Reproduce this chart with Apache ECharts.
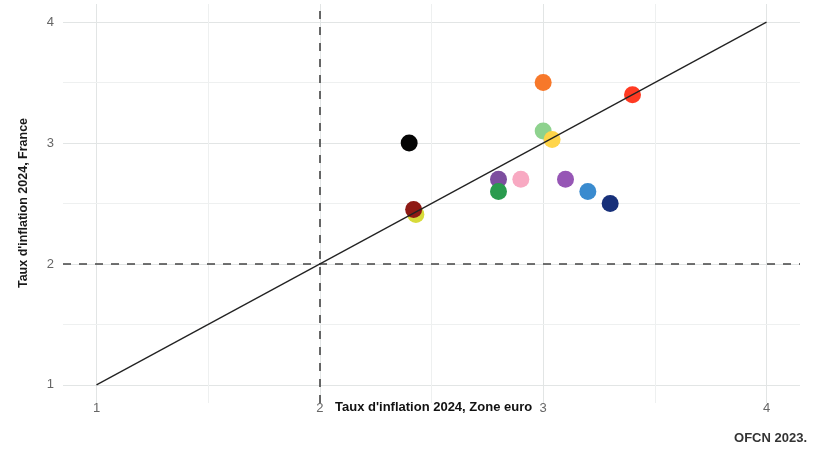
<!DOCTYPE html>
<html><head><meta charset="utf-8">
<script src="https://cdn.jsdelivr.net/npm/echarts@6/dist/echarts.min.js"></script>
<style>html,body{margin:0;padding:0;background:#fff}#c{width:817px;height:450px}</style>
</head><body><div id="c"></div>
<script>
const xVals = [3.0, 3.4, 3.0, 3.04, 2.4, 2.8, 2.9, 3.1, 2.8, 3.2, 3.3, 2.43, 2.42];
const yVals = [3.5, 3.4, 3.1, 3.03, 3.0, 2.7, 2.7, 2.7, 2.6, 2.6, 2.5, 2.41, 2.45];
const colors = ['#F7782A', '#FF3A22', '#8ED28E', '#FFD54A', '#050505', '#7D4E9F', '#F8A9C2', '#9656B5', '#2A9B4E', '#3A8BCF', '#17307A', '#D8DB3A', '#8E1A15'];
const majorTicks = [1, 2, 3, 4];
const minorTicks = [1.5, 2.5, 3.5];
const diagonal = [[1, 1], [4, 4]];
const refX = 2, refY = 2;

const points = xVals.map((x, i) => ({ value: [x, yVals[i]], itemStyle: { color: colors[i] } }));
const gridLines = [];
majorTicks.forEach(v => { gridLines.push({ xAxis: v, lineStyle: { color: '#e2e5e5', width: 1, type: 'solid' } }); gridLines.push({ yAxis: v, lineStyle: { color: '#e2e5e5', width: 1, type: 'solid' } }); });
minorTicks.forEach(v => { gridLines.push({ xAxis: v, lineStyle: { color: '#eef0f0', width: 1, type: 'solid' } }); gridLines.push({ yAxis: v, lineStyle: { color: '#eef0f0', width: 1, type: 'solid' } }); });

const chart = echarts.init(document.getElementById('c'));
chart.setOption({
  animation: false,
  backgroundColor: '#fff',
  grid: { left: 63, right: 17, top: 4, bottom: 47, containLabel: false, outerBoundsMode: 'none' },
  xAxis: {
    type: 'value', min: 0.85, max: 4.15,
    axisLine: { show: false }, axisTick: { show: false }, splitLine: { show: false },
    axisLabel: { customValues: majorTicks, color: '#666', fontSize: 13, margin: -1, fontFamily: 'Liberation Sans' }
  },
  yAxis: {
    type: 'value', min: 0.85, max: 4.15,
    axisLine: { show: false }, axisTick: { show: false }, splitLine: { show: false },
    axisLabel: { customValues: majorTicks, color: '#666', fontSize: 13, margin: 9, fontFamily: 'Liberation Sans' }
  },
  series: [
    {
      type: 'line', data: [], silent: true,
      markLine: { symbol: 'none', silent: true, label: { show: false }, lineStyle: { type: 'solid' }, data: gridLines, z: 0 }
    },
    {
      type: 'line', data: [], silent: true, z: 3,
      markLine: {
        symbol: 'none', silent: true, label: { show: false },
        lineStyle: { color: '#444', type: [8, 8], width: 1.6 },
        data: [{ xAxis: refX }, { yAxis: refY }]
      }
    },
    {
      type: 'scatter', data: points, symbolSize: 17, z: 4,
      itemStyle: { opacity: 1 }
    },
    {
      type: 'line', data: diagonal, showSymbol: false, symbol: 'none', z: 5,
      lineStyle: { color: '#222', width: 1.3 }
    }
  ],
  graphic: [
    { type: 'text', left: 335, top: 401, style: { text: "Taux d'inflation 2024, Zone euro", font: 'bold 13px "Liberation Sans"', fill: '#111' } },
    { type: 'text', right: 10, top: 432, style: { text: 'OFCN 2023.', font: 'bold 13px "Liberation Sans"', fill: '#333' } },
    { type: 'text', x: 17, y: 203, rotation: Math.PI / 2, style: { text: "Taux d'inflation 2024, France", font: 'bold 12.5px "Liberation Sans"', fill: '#1a1a1a', align: 'center', verticalAlign: 'top' } }
  ]
});
</script></body></html>
